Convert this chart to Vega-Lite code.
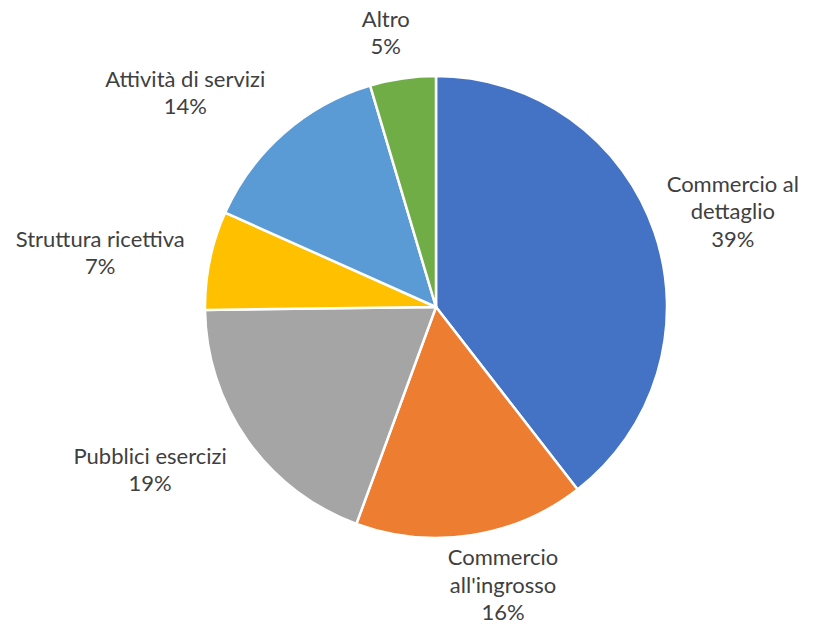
{
  "$schema": "https://vega.github.io/schema/vega-lite/v6.json",
  "width": 758,
  "height": 614,
  "autosize": "none",
  "padding": {"left": 57, "top": 0, "right": 0, "bottom": 14},
  "background": "white",
  "config": {"view": {"stroke": null}, "text": {"font": "Lato", "fontSize": 22, "color": "#404040", "lineHeight": 27.5, "align": "center", "baseline": "middle"}},
  "data": {
    "values": [
      {"ordine": 1, "settore": "Commercio al dettaglio", "quota": 39.5, "etichetta": ["Commercio al", "dettaglio", "39%"]},
      {"ordine": 2, "settore": "Commercio all'ingrosso", "quota": 16.1, "etichetta": ["Commercio", "all'ingrosso", "16%"]},
      {"ordine": 3, "settore": "Pubblici esercizi", "quota": 19.2, "etichetta": ["Pubblici esercizi", "19%"]},
      {"ordine": 4, "settore": "Struttura ricettiva", "quota": 6.9, "etichetta": ["Struttura ricettiva", "7%"]},
      {"ordine": 5, "settore": "Attività di servizi", "quota": 13.7, "etichetta": ["Attività di servizi", "14%"]},
      {"ordine": 6, "settore": "Altro", "quota": 4.6, "etichetta": ["Altro", "5%"]}
    ]
  },
  "encoding": {
    "theta": {"field": "quota", "type": "quantitative", "stack": true},
    "order": {"field": "ordine", "type": "ordinal"}
  },
  "layer": [
    {
      "mark": {"type": "arc", "outerRadius": 231, "stroke": "white", "strokeWidth": 2.5},
      "encoding": {
        "color": {
          "field": "settore",
          "type": "nominal",
          "legend": null,
          "scale": {
            "domain": ["Commercio al dettaglio", "Commercio all'ingrosso", "Pubblici esercizi", "Struttura ricettiva", "Attività di servizi", "Altro"],
            "range": ["#4472C4", "#ED7D31", "#A5A5A5", "#FFC000", "#5B9BD5", "#70AD47"]
          }
        }
      }
    },
    {
      "mark": {"type": "text", "radius": 300, "dx": 13, "dy": -25},
      "encoding": {"text": {"condition": {"test": "datum.settore === 'Commercio al dettaglio'", "field": "etichetta"}, "value": ""}}
    },
    {
      "mark": {"type": "text", "radius": 300, "dx": 21, "dy": -45},
      "encoding": {"text": {"condition": {"test": "datum.settore === \"Commercio all'ingrosso\"", "field": "etichetta"}, "value": ""}}
    },
    {
      "mark": {"type": "text", "radius": 300, "dx": -41, "dy": -23.5},
      "encoding": {"text": {"condition": {"test": "datum.settore === 'Pubblici esercizi'", "field": "etichetta"}, "value": ""}}
    },
    {
      "mark": {"type": "text", "radius": 300, "dx": -42, "dy": -6.5},
      "encoding": {"text": {"condition": {"test": "datum.settore === 'Struttura ricettiva'", "field": "etichetta"}, "value": ""}}
    },
    {
      "mark": {"type": "text", "radius": 300, "dx": -53, "dy": -1.5},
      "encoding": {"text": {"condition": {"test": "datum.settore === 'Attività di servizi'", "field": "etichetta"}, "value": ""}}
    },
    {
      "mark": {"type": "text", "radius": 300, "dx": -7, "dy": 9.5},
      "encoding": {"text": {"condition": {"test": "datum.settore === 'Altro'", "field": "etichetta"}, "value": ""}}
    }
  ]
}
